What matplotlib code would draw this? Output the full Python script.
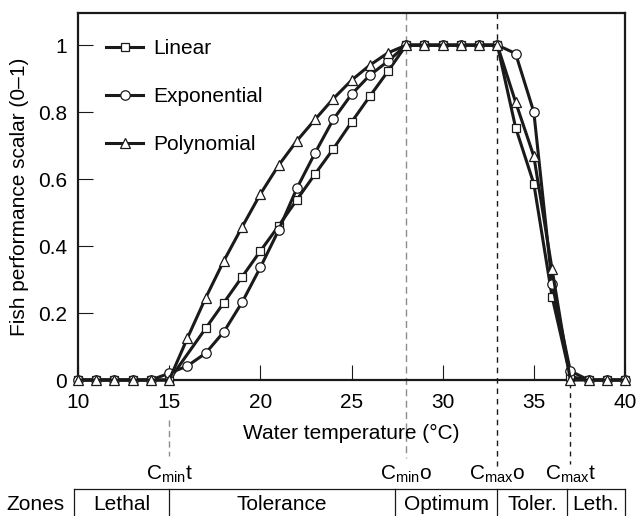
import numpy as np
import matplotlib
matplotlib.use("Agg")
import matplotlib.pyplot as plt
from matplotlib.lines import Line2D
import matplotlib.transforms as mtransforms

plt.rcParams['font.family'] = ['Liberation Sans', 'DejaVu Sans']
plt.rcParams['mathtext.default'] = 'regular'
plt.rcParams['font.size'] = 15

# ---------------- data ----------------
temps = list(range(10, 41))
linear = [0, 0, 0, 0, 0, 0, 0.077, 0.154, 0.231, 0.308, 0.385, 0.46, 0.538, 0.615, 0.69,
          0.77, 0.847, 0.922, 1, 1, 1, 1, 1, 1, 0.754, 0.586, 0.249, 0.01, 0, 0, 0]
exponential = [0, 0, 0, 0, 0, 0.02, 0.042, 0.08, 0.144, 0.232, 0.336, 0.447, 0.572, 0.678, 0.778,
               0.853, 0.91, 0.952, 1, 1, 1, 1, 1, 1, 0.975, 0.80, 0.288, 0.027, 0, 0, 0]
polynomial = [0, 0, 0, 0, 0, 0, 0.125, 0.245, 0.356, 0.457, 0.555, 0.641, 0.714, 0.778, 0.840,
              0.895, 0.940, 0.977, 1, 1, 1, 1, 1, 1, 0.830, 0.668, 0.331, 0, 0, 0, 0]
series_names = ['Linear', 'Exponential', 'Polynomial']
series_markers = ['s', 'o', '^']
# temperatures whose marker is not drawn in the original (line vertex only)
hidden_markers = [[16], [], []]

x_ticks = [10, 15, 20, 25, 30, 35, 40]
y_ticks = [0, 0.2, 0.4, 0.6, 0.8, 1]
y_ticklabels = ['0', '0.2', '0.4', '0.6', '0.8', '1']

thresholds = [15, 28, 33, 37]
threshold_labels = ['C$_{min}$t', 'C$_{min}$o', 'C$_{max}$o', 'C$_{max}$t']
zone_edges = [9.8, 15, 27.4, 33, 36.8, 40]
zone_names = ['Lethal', 'Tolerance', 'Optimum', 'Toler.', 'Leth.']

# ---------------- figure ----------------
W, H = 636, 516
fig = plt.figure(figsize=(W / 100, H / 100), dpi=100)
L, R, T, B = 78, 625, 13, 380
ax = fig.add_axes([L / W, 1 - B / H, (R - L) / W, (B - T) / H])

ink = '#1a1a1a'
marker_sizes = [6.3, 6.8, 6.8]
for vals, name, mk, ms, hid in zip([linear, exponential, polynomial], series_names,
                                   series_markers, marker_sizes, hidden_markers):
    every = [i for i, t in enumerate(temps) if t not in hid]
    ax.plot(temps, vals, color=ink, lw=2.2, marker=mk, ms=ms, mfc='white', mec=ink,
            mew=0.9, label=name, clip_on=False, zorder=3, markevery=every)

ax.set_xlim(10, 40)
ax.set_ylim(0, 1.096)
ax.set_xticks(x_ticks)
ax.set_yticks(y_ticks)
ax.set_yticklabels(y_ticklabels)
ax.tick_params(direction='in', length=11, width=0.8, color=ink, labelsize=15)
ax.tick_params(axis='x', pad=9.3)
ax.tick_params(axis='y', pad=8)
for s in ax.spines.values():
    s.set_linewidth(1.6)
    s.set_color(ink)

ax.set_xlabel('Water temperature (\u00b0C)', fontsize=15, labelpad=8.7)
ax.set_ylabel('Fish performance scalar (0\u20131)', fontsize=15, labelpad=6.5)

leg = ax.legend(loc='upper left', bbox_to_anchor=(0.052, 0.928), frameon=False,
                handlelength=1.75, handletextpad=0.5, labelspacing=1.38, borderpad=0,
                borderaxespad=0, fontsize=15)

# dashed vertical lines (x in data, y in axes fraction)
trans = mtransforms.blended_transform_factory(ax.transData, ax.transAxes)
ah = B - T
def yf(py):
    return (B - py) / ah

gray = '#8c8c8c'
dash_specs = {
    15: (yf(420), yf(456), gray, (0, (4.5, 3))),
    28: (1.0, yf(458), gray, (0, (5, 3.2))),
    33: (1.0, yf(466), ink, (0, (4, 3.5))),
    37: (yf(383), yf(464), ink, (0, (3.5, 3.5))),
}
for t in thresholds:
    y0, y1, col, ls = dash_specs[t]
    ax.add_line(Line2D([t, t], [y0, y1], transform=trans, color=col, lw=1.0,
                       linestyle=ls, clip_on=False, zorder=1))

# threshold labels
ftrans = mtransforms.blended_transform_factory(ax.transData, fig.transFigure)
for t, lab in zip(thresholds, threshold_labels):
    fig.text(t, (H - 480) / H, lab, transform=ftrans, ha='center', va='baseline', fontsize=15)

# zones box
box_top = (H - 489) / H
fig.add_artist(Line2D([zone_edges[0], zone_edges[-1]], [box_top, box_top], transform=ftrans,
                      color=ink, lw=0.9))
for e in zone_edges:
    fig.add_artist(Line2D([e, e], [box_top, -0.01], transform=ftrans, color=ink, lw=0.9))
for a, b, name in zip(zone_edges[:-1], zone_edges[1:], zone_names):
    fig.text((a + b) / 2, (H - 510) / H, name, transform=ftrans, ha='center', va='baseline',
             fontsize=15)
fig.text(35 / W, (H - 510) / H, 'Zones', ha='center', va='baseline', fontsize=15)

fig.savefig('out.png', dpi=100)
